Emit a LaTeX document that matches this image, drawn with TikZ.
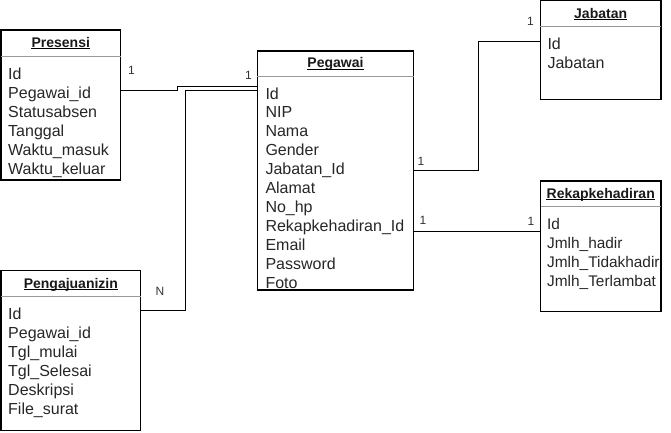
\documentclass[tikz,border=0pt]{standalone}
\usepackage{fontspec}
\setmainfont{Liberation Sans}

\begin{document}
\begin{tikzpicture}[x=1pt, y=-1pt,
    entity/.style={draw, line width=1.2pt, anchor=north west, inner sep=0pt, outer sep=0pt},
    title/.style={font=\bfseries\fontsize{14}{16}\selectfont, anchor=base, inner sep=0pt, text=black!90},
    field/.style={font=\fontsize{16}{19}\selectfont, anchor=base west, inner sep=0pt, text=black!85},
    card/.style={font=\fontsize{12}{14}\selectfont, inner sep=0pt, text=black!80},
    sepline/.style={draw=black!40, line width=0.9pt},
    link/.style={draw, line width=0.9pt}
]
    \useasboundingbox (0,0) rectangle (671,432);

    % Draw the entity boxes
    \node[entity, minimum width=119.5, minimum height=150] (presensi) at (1,30) {};
    \node[entity, minimum width=156.4, minimum height=239] (pegawai) at (257.3,51) {};
    \node[entity, minimum width=120.7, minimum height=98.8] (jabatan) at (540.3,0.7) {};
    \node[entity, minimum width=120.5, minimum height=130.5] (rekap) at (540.5,181) {};
    \node[entity, minimum width=139.7, minimum height=160] (izin) at (1,270.7) {};

    % Add the header lines
    \draw[sepline] ([yshift=-26pt]presensi.north west) -- ([yshift=-26pt]presensi.north east);
    \draw[sepline] ([yshift=-25pt]pegawai.north west) -- ([yshift=-25pt]pegawai.north east);
    \draw[sepline] ([yshift=-25.5pt]jabatan.north west) -- ([yshift=-25.5pt]jabatan.north east);
    \draw[sepline] ([yshift=-25.5pt]rekap.north west) -- ([yshift=-25.5pt]rekap.north east);
    \draw[sepline] ([yshift=-25.5pt]izin.north west) -- ([yshift=-25.5pt]izin.north east);

    % Add the titles
    \node[title] (presensiT) at ([yshift=-17pt]presensi.north) {Presensi};
    \node[title] (pegawaiT) at ([yshift=-16.5pt]pegawai.north) {Pegawai};
    \node[title] (jabatanT) at ([yshift=-17.5pt]jabatan.north) {Jabatan};
    \node[title] (rekapT) at ([yshift=-17pt]rekap.north) {Rekapkehadiran};
    \node[title] (izinT) at ([yshift=-17.5pt]izin.north) {Pengajuanizin};
    \foreach \t in {presensiT, pegawaiT, jabatanT, rekapT, izinT}
        \draw[line width=0.9pt] ([yshift=-1.6pt]\t.base west) -- ([yshift=-1.6pt]\t.base east);

    % Add the fields
    \foreach \f [count=\i from 0] in {Id, Pegawai\_id, Statusabsen, Tanggal, Waktu\_masuk, Waktu\_keluar}
        \node[field] (presensi-\i) at ([xshift=7pt, yshift={-49pt-\i*19pt}]presensi.north west) {\f};
    \foreach \f [count=\i from 0] in {Id, NIP, Nama, Gender, Jabatan\_Id, Alamat, No\_hp, Rekapkehadiran\_Id, Email, Password, Foto}
        \node[field] (pegawai-\i) at ([xshift=8pt, yshift={-48pt-\i*18.9pt}]pegawai.north west) {\f};
    \foreach \f [count=\i from 0] in {Id, Jabatan}
        \node[field] (jabatan-\i) at ([xshift=7pt, yshift={-48.5pt-\i*19pt}]jabatan.north west) {\f};
    \foreach \f [count=\i from 0] in {Id, Jmlh\_hadir, Jmlh\_Tidakhadir, Jmlh\_Terlambat}
        \node[field, font=\fontsize{15.4}{19}\selectfont] (rekap-\i) at ([xshift=6.5pt, yshift={-48pt-\i*19pt}]rekap.north west) {\f};
    \foreach \f [count=\i from 0] in {Id, Pegawai\_id, Tgl\_mulai, Tgl\_Selesai, Deskripsi, File\_surat}
        \node[field] (izin-\i) at ([xshift=7pt, yshift={-48.5pt-\i*19pt}]izin.north west) {\f};

    % Draw the relations
    \draw[link] (presensi.east |- 0,90.7) -| (177.3,86.5) -- (pegawai.west |- 0,86.5);
    \draw[link] (izin.east |- 0,310) -| (185.7,90.7) -- (pegawai.west |- 0,90.7);
    \draw[link] (pegawai.east |- 0,170) -| (478,41) -- (jabatan.west |- 0,41);
    \draw[link] (pegawai.east |- 0,231) -- (rekap.west |- 0,231);

    % Add the cardinalities
    \node[card] (c-presensi) at (131.5,70.5) {1};
    \node[card] (c-pegawai1) at (248.5,75) {1};
    \node[card] (c-izin) at (160,291) {N};
    \node[card] (c-pegawai2) at (421,161) {1};
    \node[card] (c-jabatan) at (530.5,21) {1};
    \node[card] (c-pegawai3) at (423,220.5) {1};
    \node[card] (c-rekap) at (531,221) {1};
\end{tikzpicture}
\end{document}
